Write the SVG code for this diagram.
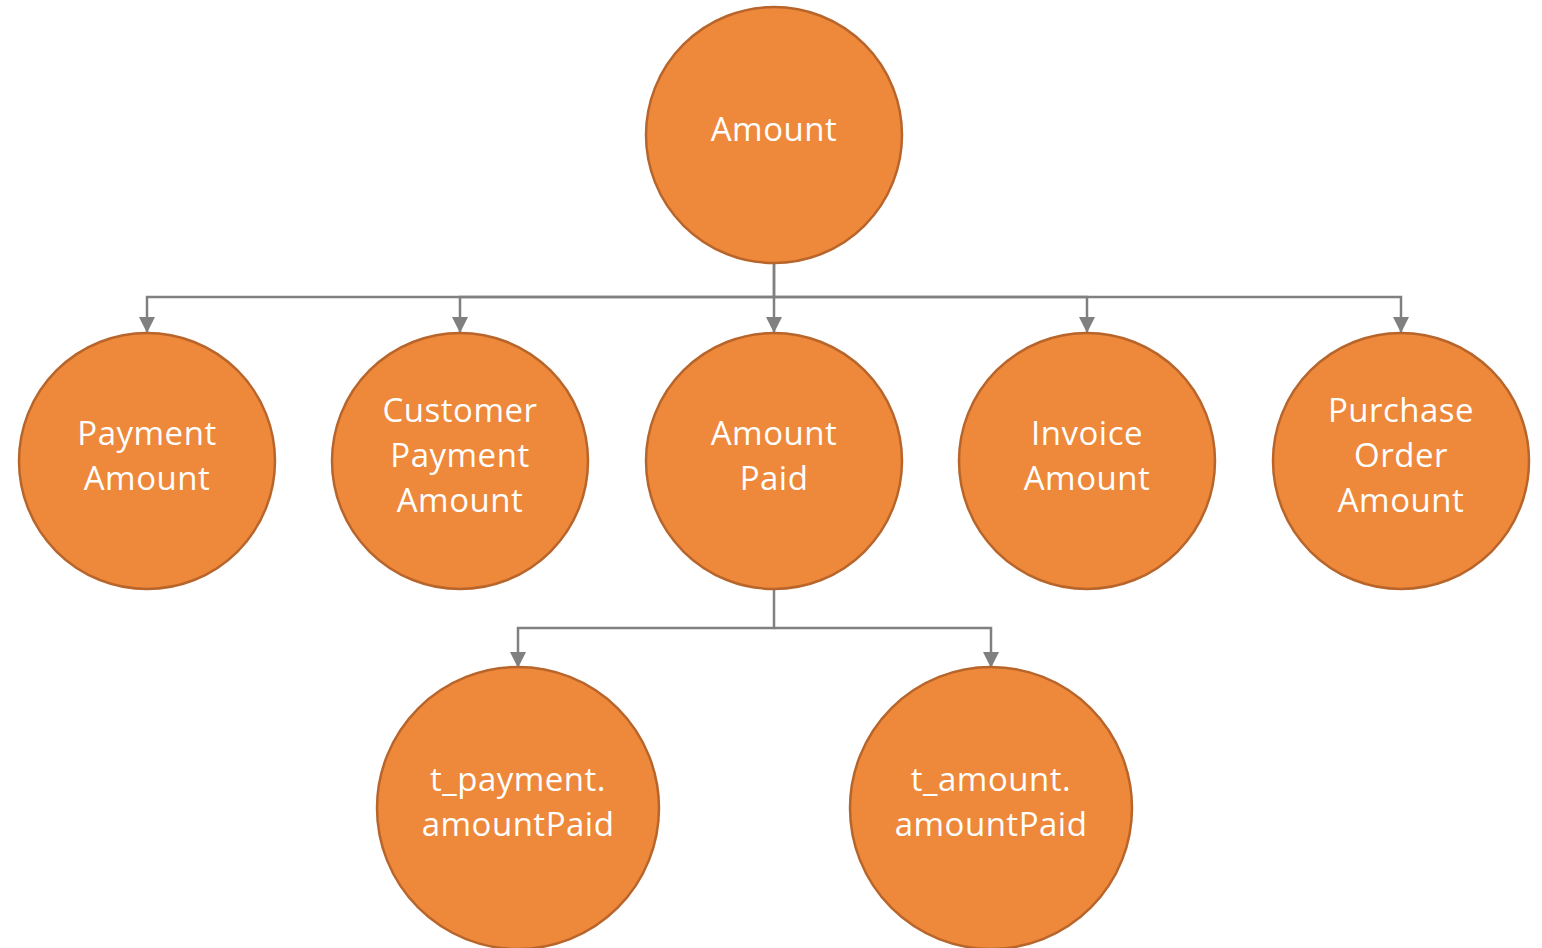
<svg xmlns="http://www.w3.org/2000/svg" width="1542" height="948" viewBox="0 0 1542 948">
<defs>
<style>
.n circle{fill:#EE883A;stroke:#B8652B;stroke-width:2.5}
.n text{fill:#fff;font-family:"Open Sans","Noto Sans",sans-serif;font-size:33px;letter-spacing:0.5px;text-anchor:middle}
.c path{fill:none;stroke:#808080;stroke-width:2.5}
</style>
<marker id="ah" markerWidth="16" markerHeight="16" viewBox="0 0 16 16" refX="15" refY="8" orient="auto" markerUnits="userSpaceOnUse">
<path d="M0,0 L16,8 L0,16 Z" fill="#808080"/>
</marker>
</defs>
<rect width="1542" height="948" fill="#fff"/>
<g class="c">
<path d="M774,263 V297 H147 V332" marker-end="url(#ah)"/>
<path d="M774,297 H460 V332" marker-end="url(#ah)"/>
<path d="M774,263 V332" marker-end="url(#ah)"/>
<path d="M774,297 H1087 V332" marker-end="url(#ah)"/>
<path d="M774,297 H1401 V332" marker-end="url(#ah)"/>
<path d="M774,589 V628 H518 V667" marker-end="url(#ah)"/>
<path d="M774,628 H991 V667" marker-end="url(#ah)"/>
</g>
<g id="amount" class="n"><circle cx="774" cy="135" r="128"/><text x="774" y="141">Amount</text></g>
<g id="payment-amount" class="n"><circle cx="147" cy="461" r="128"/><text x="147" y="445">Payment</text><text x="147" y="490">Amount</text></g>
<g id="customer-payment-amount" class="n"><circle cx="460" cy="461" r="128"/><text x="460" y="422">Customer</text><text x="460" y="467">Payment</text><text x="460" y="512">Amount</text></g>
<g id="amount-paid" class="n"><circle cx="774" cy="461" r="128"/><text x="774" y="445">Amount</text><text x="774" y="490">Paid</text></g>
<g id="invoice-amount" class="n"><circle cx="1087" cy="461" r="128"/><text x="1087" y="445">Invoice</text><text x="1087" y="490">Amount</text></g>
<g id="purchase-order-amount" class="n"><circle cx="1401" cy="461" r="128"/><text x="1401" y="422">Purchase</text><text x="1401" y="467">Order</text><text x="1401" y="512">Amount</text></g>
<g id="t-payment" class="n"><circle cx="518" cy="808" r="141"/><text x="518" y="791">t_payment.</text><text x="518" y="836">amountPaid</text></g>
<g id="t-amount" class="n"><circle cx="991" cy="808" r="141"/><text x="991" y="791">t_amount.</text><text x="991" y="836">amountPaid</text></g>
</svg>
